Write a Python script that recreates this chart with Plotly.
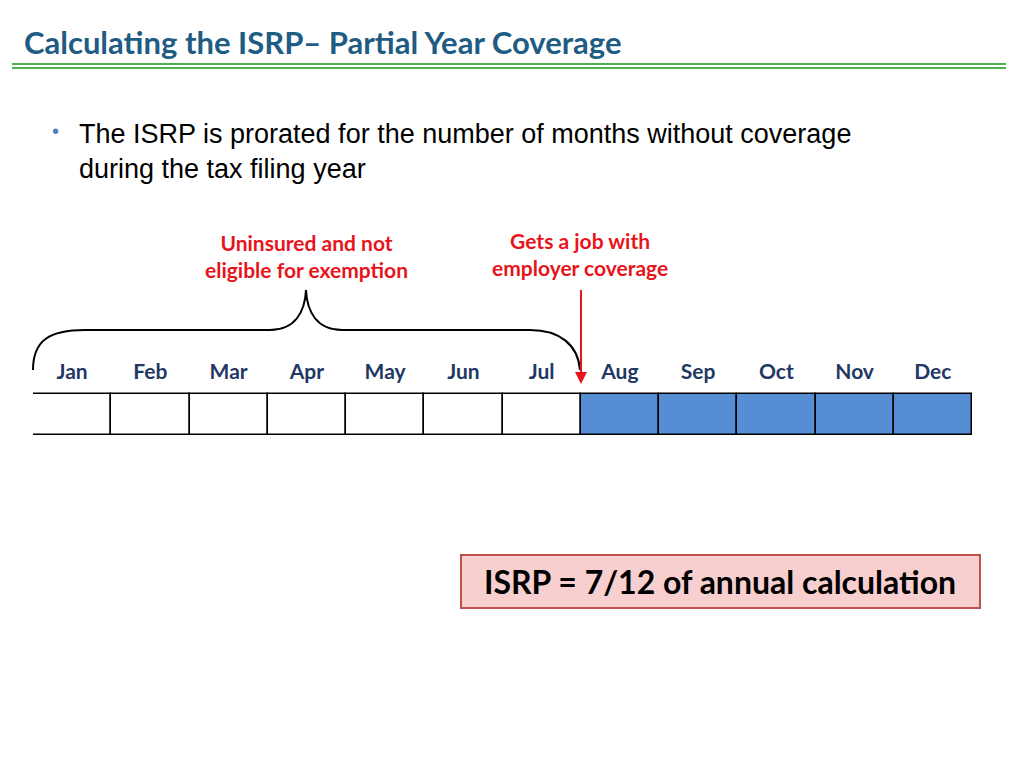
import plotly.graph_objects as go

months = ["Jan", "Feb", "Mar", "Apr", "May", "Jun", "Jul", "Aug", "Sep", "Oct", "Nov", "Dec"]
covered = [0, 0, 0, 0, 0, 0, 0, 1, 1, 1, 1, 1]

fig = go.Figure()

# month cells
fig.add_trace(go.Bar(
    x=months, y=[41] * 12, base=[394] * 12, width=1,
    marker=dict(color=["#558ED5" if c else "white" for c in covered],
                line=dict(color="black", width=1.5)),
    xaxis="x2", yaxis="y", showlegend=False, hoverinfo="skip"))
fig.add_trace(go.Scatter(
    x=months, y=[374] * 12, mode="text", text=["<b>%s</b>" % m for m in months],
    textfont=dict(family="Lato", size=21, color="#1F3864"),
    xaxis="x2", yaxis="y", showlegend=False, hoverinfo="skip"))

shapes = [
    dict(type="line", x0=12, x1=1006, y0=64, y1=64, line=dict(color="#4CAF50", width=2)),
    dict(type="line", x0=12, x1=1006, y0=68, y1=68, line=dict(color="#4CAF50", width=2)),
    dict(type="path",
         path="M 33 370 C 33 340, 50 330, 85 330 L 270 330 C 295 330, 305 312, 306 290 "
              "C 307 312, 317 330, 342 330 L 530 330 C 560 330, 578 345, 580 370",
         line=dict(color="black", width=2)),
    dict(type="line", x0=581, x1=581, y0=290, y1=376, line=dict(color="#E8141B", width=2)),
    dict(type="rect", x0=461, x1=980, y0=555, y1=608,
         fillcolor="#F8CFCF", line=dict(color="#C0504D", width=2)),
]

annotations = [
    dict(x=22, y=42, text="<b>Calculating the ISRP– Partial Year Coverage</b>", xanchor="left",
         font=dict(family="Lato", size=31, color="#1F5C84")),
    dict(x=50, y=131, text="•", xanchor="left", font=dict(family="Liberation Sans", size=20, color="#4F81BD")),
    dict(x=77, y=151, text="The ISRP is prorated for the number of months without coverage<br>during the tax filing year",
         xanchor="left", align="left", font=dict(family="Liberation Sans", size=27, color="black")),
    dict(x=306, y=256, text="<b>Uninsured and not<br>eligible for exemption</b>",
         font=dict(family="Lato", size=21, color="#E8141B")),
    dict(x=580, y=254, text="<b>Gets a job with<br>employer coverage</b>",
         font=dict(family="Lato", size=21, color="#E8141B")),
    dict(x=581, y=384, ax=581, ay=370, axref="x", ayref="y", text="", showarrow=True,
         arrowhead=2, arrowsize=1.2, arrowwidth=2, arrowcolor="#E8141B"),
    dict(x=720, y=581, text="<b>ISRP = 7/12 of annual calculation</b>",
         font=dict(family="Lato", size=32, color="black")),
]
for a in annotations:
    a.setdefault("showarrow", False)
    a.setdefault("xref", "x")
    a.setdefault("yref", "y")

fig.update_layout(
    width=1024, height=768, margin=dict(l=0, r=0, t=0, b=0),
    paper_bgcolor="white", plot_bgcolor="white",
    xaxis=dict(range=[8, 1032], visible=False),
    xaxis2=dict(domain=[25 / 1024, 964 / 1024], anchor="y", visible=False,
                range=[-0.5, 11.5]),
    yaxis=dict(range=[776, 8], visible=False),
    shapes=shapes, annotations=annotations, bargap=0,
)

fig.write_html("out.html")
